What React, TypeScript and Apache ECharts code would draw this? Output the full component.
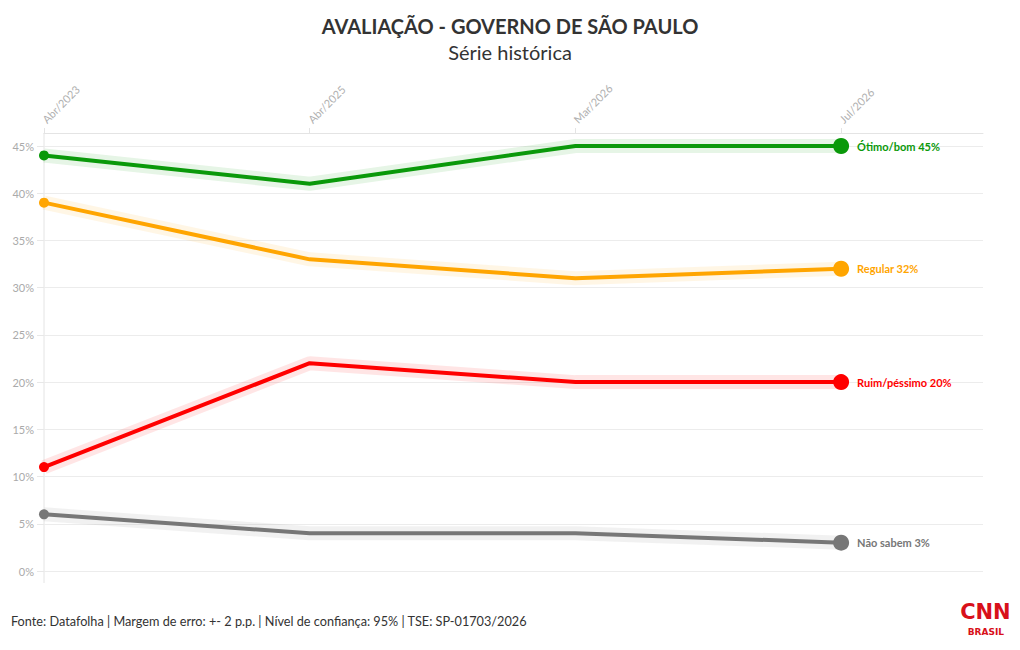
import React, { useEffect, useRef } from "react";
import * as echarts from "echarts";

const periods = ["Abr/2023", "Abr/2025", "Mar/2026", "Jul/2026"];
const otimoBom = [44, 41, 45, 45];
const regular = [39, 33, 31, 32];
const ruimPessimo = [11, 22, 20, 20];
const naoSabem = [6, 4, 4, 3];
const yTicks = [0, 5, 10, 15, 20, 25, 30, 35, 40, 45];

const seriesDefs = [
  { name: "Ótimo/bom", values: otimoBom, color: "#0a990a" },
  { name: "Regular", values: regular, color: "#ffa500" },
  { name: "Ruim/péssimo", values: ruimPessimo, color: "#ff0000" },
  { name: "Não sabem", values: naoSabem, color: "#777777" },
];

const FONT = "Lato, 'Noto Sans', sans-serif";
const GRID = { left: 44, right: 37, top: 146, bottom: 79 };

export default function App() {
  const ref = useRef<HTMLDivElement>(null);
  useEffect(() => {
    document.body.style.margin = "0";
    const chart = echarts.init(ref.current!, null, { renderer: "svg" });
    const last = periods.length - 1;
    const xMax = 3.534;
    const series: any[] = [];
    seriesDefs.forEach((s) => {
      const data = s.values.map((v, i) => [i, v]);
      series.push({
        type: "line",
        name: s.name + " halo",
        data,
        symbol: "none",
        silent: true,
        z: 1,
        lineStyle: { width: 14, color: s.color, opacity: 0.1 },
      });
      series.push({
        type: "line",
        name: s.name,
        data,
        z: 3,
        symbol: "circle",
        showSymbol: true,
        symbolSize: (_v: any, p: any) =>
          p.dataIndex === 0 ? 10 : p.dataIndex === last ? 16 : 0,
        itemStyle: { color: s.color },
        lineStyle: { width: 4, color: s.color },
        endLabel: {
          show: true,
          distance: 16,
          formatter: (p: any) => `${s.name} ${p.value[1]}%`,
          color: s.color,
          fontWeight: "bold",
          fontSize: 11,
          fontFamily: FONT,
        },
      });
    });

    chart.setOption({
      animation: false,
      backgroundColor: "#ffffff",
      title: {
        text: "AVALIAÇÃO - GOVERNO DE SÃO PAULO",
        subtext: "Série histórica",
        left: "center",
        top: 11,
        itemGap: 6,
        textStyle: { fontSize: 20, fontWeight: "bold", color: "#333333", fontFamily: FONT },
        subtextStyle: { fontSize: 20, color: "#333333", fontFamily: FONT },
      },
      grid: { ...GRID },
      xAxis: {
        type: "value",
        position: "top",
        offset: 13,
        min: 0,
        max: xMax,
        interval: 1,
        axisLine: { show: true, onZero: false, lineStyle: { color: "#e4e4e4" } },
        axisTick: { show: true, length: 5, lineStyle: { color: "#e4e4e4" }, customValues: [0, 1, 2, 3] },
        axisLabel: {
          rotate: -45,
          margin: 12,
          color: "#b0b0b0",
          fontSize: 11,
          fontFamily: FONT,
          customValues: [0, 1, 2, 3],
          formatter: (v: number) => periods[v] ?? "",
        },
        splitLine: { show: false },
      },
      yAxis: {
        type: "value",
        min: yTicks[0],
        max: yTicks[yTicks.length - 1],
        interval: 5,
        axisLine: { show: false },
        axisTick: { show: true, length: 7, lineStyle: { color: "#e8e8e8" } },
        axisLabel: { color: "#aaaaaa", fontSize: 11, fontFamily: FONT, margin: 10, formatter: "{value}%" },
        splitLine: { show: true, lineStyle: { color: "#ececec" } },
      },
      graphic: [
        {
          type: "line",
          shape: { x1: GRID.left, y1: GRID.top - 13, x2: GRID.left, y2: 650 - GRID.bottom + 12 },
          style: { stroke: "#e4e4e4", lineWidth: 1 },
          silent: true,
        },
        {
          type: "text",
          left: 11,
          top: 614,
          style: {
            text: "Fonte: Datafolha | Margem de erro: +- 2 p.p. | Nível de confiança: 95% | TSE: SP-01703/2026",
            fill: "#333333",
            fontSize: 12.7,
            fontFamily: FONT,
          },
        },
        {
          type: "text",
          right: 9,
          top: 601,
          style: {
            text: "CNN",
            fill: "#d8101a",
            fontSize: 21,
            fontWeight: 900,
            fontFamily: "'DejaVu Sans', sans-serif",
            stroke: "#ffffff",
            lineWidth: 0.6,
          },
        },
        {
          type: "text",
          right: 16,
          top: 627,
          style: {
            text: "BRASIL",
            fill: "#d8101a",
            fontSize: 9,
            fontWeight: "bold",
            fontFamily: "'DejaVu Sans', sans-serif",
          },
        },
      ],
      series,
    });
    return () => chart.dispose();
  }, []);
  return <div ref={ref} style={{ width: 1020, height: 650 }} />;
}
